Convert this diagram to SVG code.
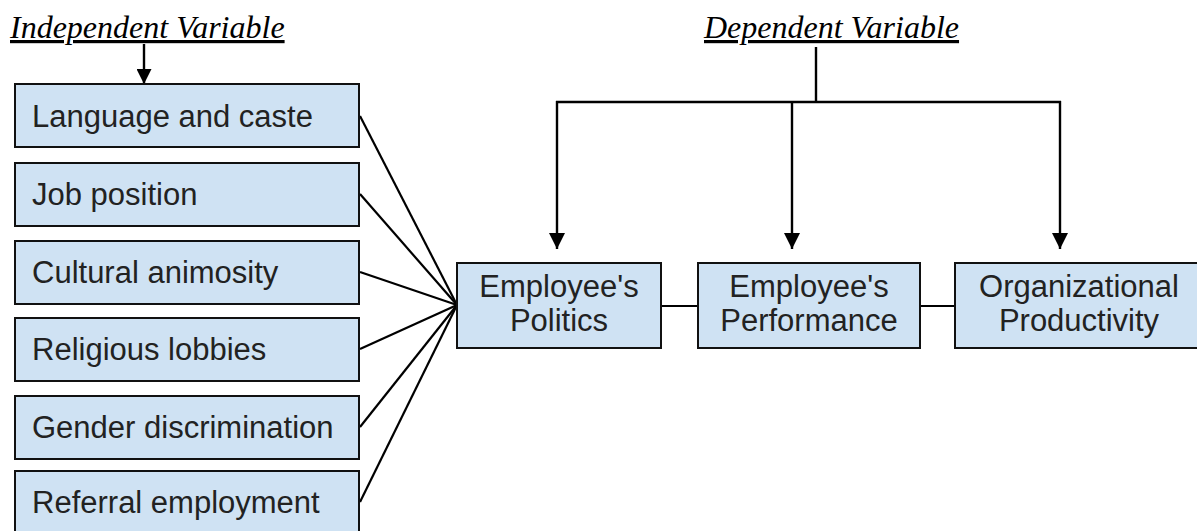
<svg xmlns="http://www.w3.org/2000/svg" width="1197" height="531" viewBox="0 0 1197 531">
<style>
.box{fill:#cfe2f3;stroke:#111;stroke-width:2}
.t{font-family:"Liberation Sans",Arial,sans-serif;font-size:31px;fill:#222}
.c{text-anchor:middle}
.h{font-family:"Liberation Serif","Times New Roman",serif;font-style:italic;font-size:32px;fill:#000;text-decoration:underline}
.ln{stroke:#000;stroke-width:2.2;fill:none}
.v{stroke:#000;stroke-width:2.4;fill:none}
</style>
<defs>
<marker id="ah" viewBox="0 0 10 10" refX="10" refY="5" markerWidth="15" markerHeight="15" markerUnits="userSpaceOnUse" orient="auto">
<path d="M0,0 L10,5 L0,10 Z" fill="#000"/>
</marker>
<marker id="ah2" viewBox="0 0 10 10" refX="10" refY="5" markerWidth="16" markerHeight="17" markerUnits="userSpaceOnUse" orient="auto">
<path d="M0,0 L10,5 L0,10 Z" fill="#000"/>
</marker>
</defs>
<rect width="1197" height="531" fill="#fff"/>
<g id="label-independent"><text class="h" x="10" y="38">Independent Variable</text></g>
<g id="label-dependent"><text class="h" x="704" y="38">Dependent Variable</text></g>
<g id="connectors">
<line class="v" x1="144" y1="44" x2="144" y2="84" marker-end="url(#ah)"/>
<line class="v" x1="816" y1="47" x2="816" y2="102"/>
<line class="v" x1="556" y1="102" x2="1061" y2="102"/>
<line class="v" x1="557" y1="101" x2="557" y2="249" marker-end="url(#ah2)"/>
<line class="v" x1="792" y1="101" x2="792" y2="249" marker-end="url(#ah2)"/>
<line class="v" x1="1060" y1="101" x2="1060" y2="249" marker-end="url(#ah2)"/>
<line class="ln" x1="360" y1="116" x2="457" y2="305"/>
<line class="ln" x1="360" y1="194" x2="457" y2="305"/>
<line class="ln" x1="360" y1="272" x2="457" y2="305"/>
<line class="ln" x1="360" y1="349" x2="457" y2="305"/>
<line class="ln" x1="360" y1="427" x2="457" y2="305"/>
<line class="ln" x1="360" y1="502" x2="457" y2="305"/>
<line class="ln" x1="661" y1="306" x2="698" y2="306"/>
<line class="ln" x1="920" y1="306" x2="955" y2="306"/>
</g>
<g id="n-language"><rect class="box" x="15" y="84" width="344" height="63"/><text class="t" x="32" y="127">Language and caste</text></g>
<g id="n-job"><rect class="box" x="15" y="163" width="344" height="63"/><text class="t" x="32" y="205">Job position</text></g>
<g id="n-cultural"><rect class="box" x="15" y="241" width="344" height="63"/><text class="t" x="32" y="283">Cultural animosity</text></g>
<g id="n-religious"><rect class="box" x="15" y="318" width="344" height="63"/><text class="t" x="32" y="360">Religious lobbies</text></g>
<g id="n-gender"><rect class="box" x="15" y="396" width="344" height="63"/><text class="t" x="32" y="438">Gender discrimination</text></g>
<g id="n-referral"><rect class="box" x="15" y="471" width="344" height="70"/><text class="t" x="32" y="513">Referral employment</text></g>
<g id="n-politics"><rect class="box" x="457" y="263" width="204" height="85"/><text class="t c" x="559" y="297">Employee's</text><text class="t c" x="559" y="331">Politics</text></g>
<g id="n-performance"><rect class="box" x="698" y="263" width="222" height="85"/><text class="t c" x="809" y="297">Employee's</text><text class="t c" x="809" y="331">Performance</text></g>
<g id="n-productivity"><rect class="box" x="955" y="263" width="260" height="85"/><text class="t c" x="1079" y="297">Organizational</text><text class="t c" x="1079" y="331">Productivity</text></g>
</svg>
